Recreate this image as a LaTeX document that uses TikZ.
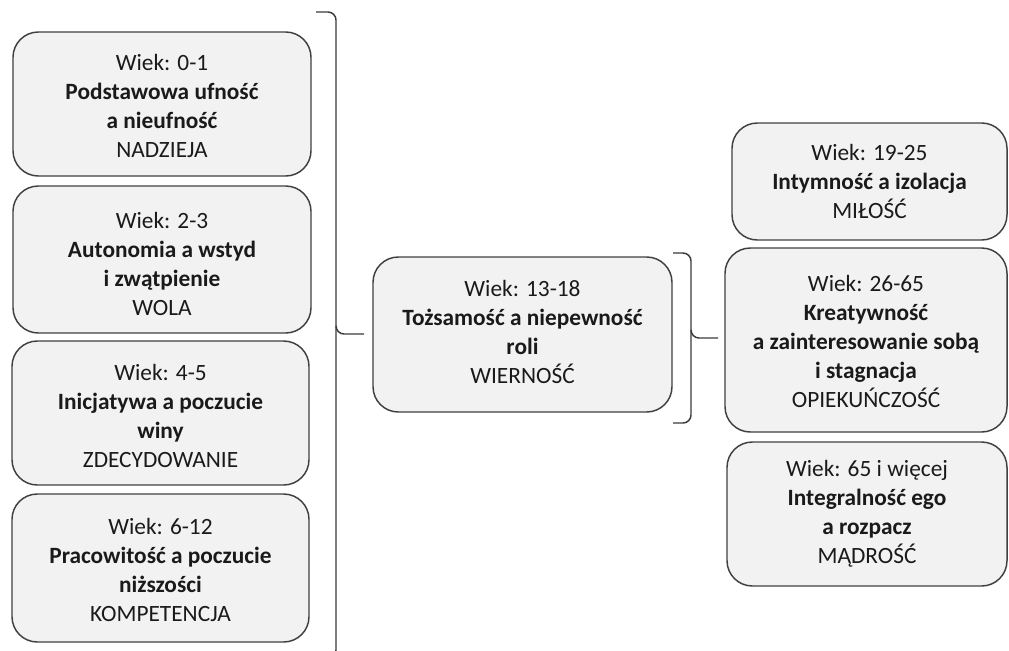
\documentclass[tikz,border=0pt]{standalone}
\usepackage{fontspec}
\setmainfont{Carlito}
\definecolor{boxfill}{HTML}{F2F2F2}
\definecolor{boxline}{HTML}{404040}
\definecolor{txt}{HTML}{1A1A1A}
\begin{document}
\begin{tikzpicture}[x=0.75pt,y=-0.75pt,
  stage/.style={draw=boxline, fill=boxfill, line width=1.1pt, rounded corners=19pt, inner sep=0pt},
  stagetext/.style={align=center, text=txt, inner sep=0pt,
    font=\fontsize{17.5}{21.75}\selectfont},
  bracepath/.style={draw=boxline!90!black, line width=1.1pt, rounded corners=6pt}]
\useasboundingbox (0,0) rectangle (1009,650);
% left column
\node[stage, minimum width=223.5pt, minimum height=108pt] (l1) at (162,104) {};
\node[stagetext] (l1t) at (162,105.5)
  {Wiek: 0-1\\\textbf{Podstawowa ufność}\\\textbf{a nieufność}\\NADZIEJA};
\node[stage, minimum width=223.5pt, minimum height=110.25pt] (l2) at (162,259.5) {};
\node[stagetext] (l2t) at (162,264)
  {Wiek: 2-3\\\textbf{Autonomia a wstyd}\\\textbf{i zwątpienie}\\WOLA};
\node[stage, minimum width=222.75pt, minimum height=108pt] (l3) at (160.5,413) {};
\node[stagetext] (l3t) at (160.5,416)
  {Wiek: 4-5\\\textbf{Inicjatywa a poczucie}\\\textbf{winy}\\ZDECYDOWANIE};
\node[stage, minimum width=222.75pt, minimum height=111pt] (l4) at (160.5,568) {};
\node[stagetext] (l4t) at (160.5,569.5)
  {Wiek: 6-12\\\textbf{Pracowitość a poczucie}\\\textbf{niższości}\\KOMPETENCJA};
% middle
\node[stage, minimum width=224.25pt, minimum height=116.25pt] (m) at (522.5,334.5) {};
\node[stagetext] (mt) at (522.5,332)
  {Wiek: 13-18\\\textbf{Tożsamość a niepewność}\\\textbf{roli}\\WIERNOŚĆ};
% right column
\node[stage, minimum width=206.25pt, minimum height=87.75pt] (r1) at (869.5,181.5) {};
\node[stagetext] (r1t) at (869.5,181.5)
  {Wiek: 19-25\\\textbf{Intymność a izolacja}\\MIŁOŚĆ};
\node[stage, minimum width=211.5pt, minimum height=138pt] (r2) at (866,340) {};
\node[stagetext] (r2t) at (866,341.5)
  {Wiek: 26-65\\\textbf{Kreatywność}\\\textbf{a zainteresowanie sobą}\\\textbf{i stagnacja}\\OPIEKUŃCZOŚĆ};
\node[stage, minimum width=210pt, minimum height=108pt] (r3) at (867,514) {};
\node[stagetext] (r3t) at (867,513.5)
  {Wiek: 65 i więcej\\\textbf{Integralność ego}\\\textbf{a rozpacz}\\MĄDROŚĆ};
% big brace
\coordinate (bt) at (316,12);
\coordinate (bm) at (364,334);
\coordinate (bb) at (316,658);
\draw[bracepath] (bt) -- (336,12) -- (336,334) -- (bm);
\draw[bracepath] (336,326) -- (336,658) -- (bb);
% small brace
\coordinate (st) at (673,253);
\coordinate (sm) at (718,338);
\coordinate (sb) at (673,423);
\draw[bracepath] (st) -- (691,253) -- (691,338) -- (sm);
\draw[bracepath] (691,330) -- (691,423) -- (sb);
\end{tikzpicture}
\end{document}
